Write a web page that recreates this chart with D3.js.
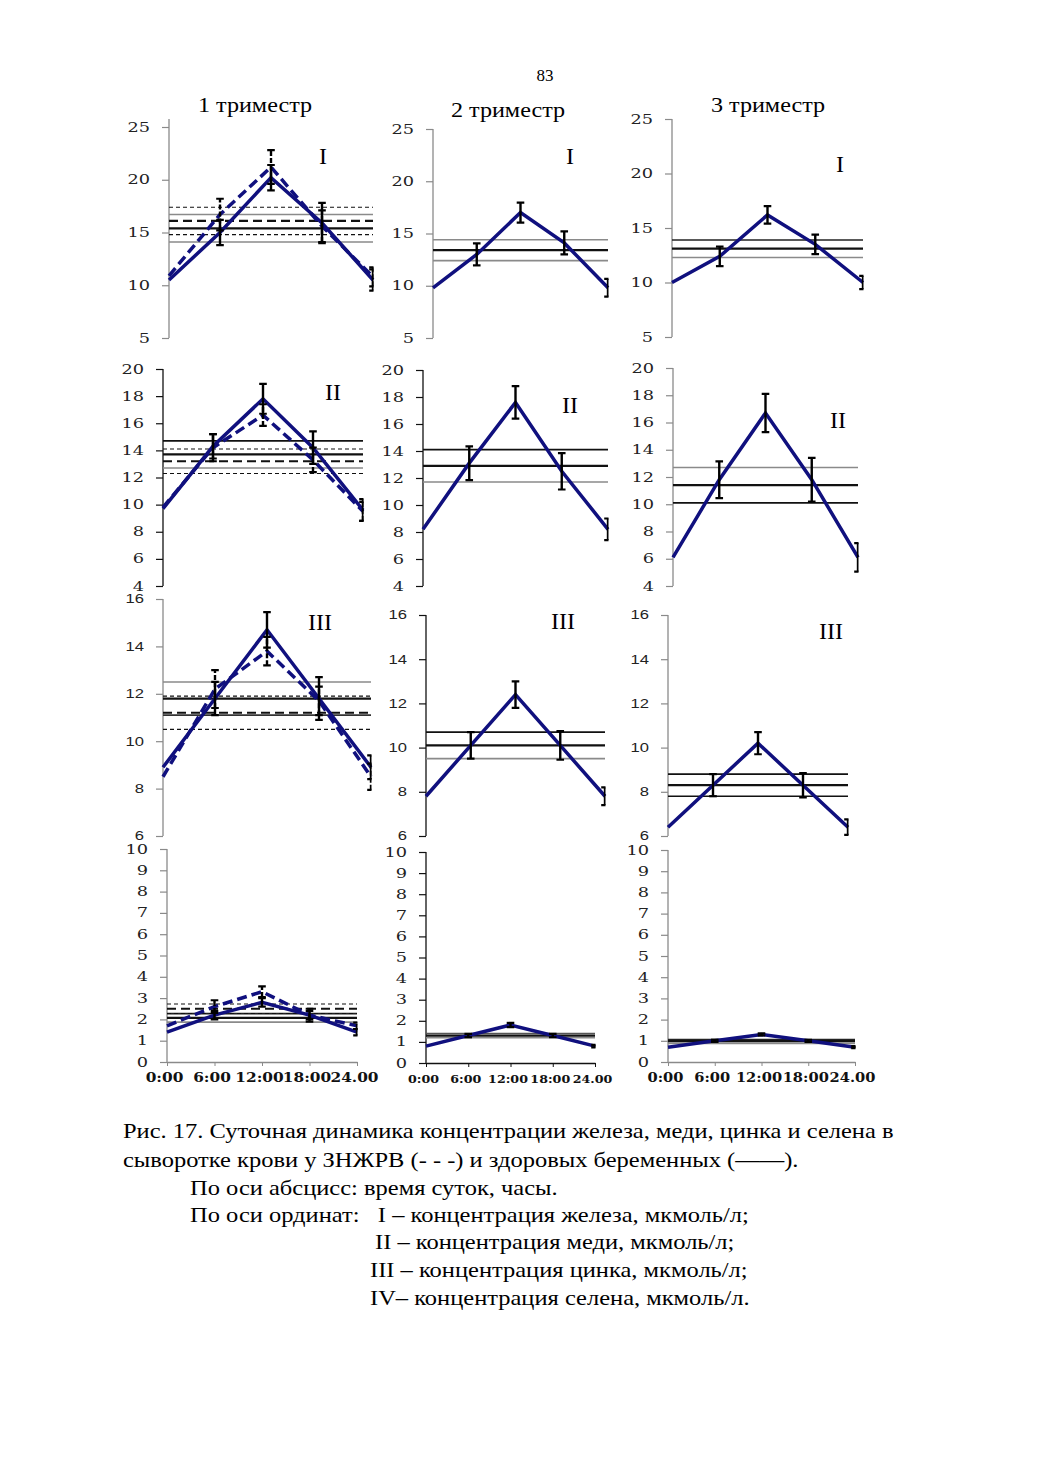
<!DOCTYPE html>
<html><head><meta charset="utf-8">
<script src="https://cdn.jsdelivr.net/npm/d3@7"></script>
<style>body{margin:0;background:#fff}</style>
</head><body>
<script>
// ---------- DATA ----------
const times = ["0:00","6:00","12:00","18:00","24.00"];
const trimesters = ["1 триместр","2 триместр","3 триместр"];
const elementLabels = ["I","II","III",""];

// Iron (I)
const ironT1 = [10.5, 15.0, 20.2, 15.9, 10.5];
const ironT1Err = [1.0, 1.2, 1.2, 1.9, 1.0];
const ironT1Z = [10.9, 16.7, 21.2, 15.6, 10.8];
const ironT1ZErr = [1.0, 1.5, 1.6, 1.5, 0.9];
const ironT1Norm = [15.4, 14.1, 16.7];
const ironT1ZNorm = [16.1, 14.8, 17.4];
const ironT2 = [9.8, 13.0, 17.0, 14.1, 9.8];
const ironT2Err = [0.85, 1.05, 0.95, 1.1, 0.85];
const ironT2Norm = [13.4, 12.4, 14.4];
const ironT3 = [10.0, 12.4, 16.2, 13.5, 10.0];
const ironT3Err = [0.6, 0.9, 0.8, 0.9, 0.6];
const ironT3Norm = [13.1, 12.3, 13.9];

// Copper (II)
const copperT1 = [9.7, 14.3, 17.8, 14.2, 9.6];
const copperT1Err = [0.8, 0.9, 1.1, 1.2, 0.8];
const copperT1Z = [9.8, 14.2, 16.6, 13.3, 9.5];
const copperT1ZErr = [0.8, 1.0, 0.8, 0.9, 0.7];
const copperT1Norm = [13.7, 12.7, 14.7];
const copperT1ZNorm = [13.2, 12.3, 14.1];
const copperT2 = [8.2, 13.1, 17.6, 12.5, 8.2];
const copperT2Err = [0.8, 1.25, 1.2, 1.35, 0.8];
const copperT2Norm = [12.9, 11.7, 14.1];
const copperT3 = [6.1, 11.8, 16.7, 11.8, 6.1];
const copperT3Err = [1.05, 1.35, 1.4, 1.6, 1.05];
const copperT3Norm = [11.4, 10.1, 12.7];

// Zinc (III)
const zincT1 = [8.9, 11.8, 14.7, 11.8, 8.9];
const zincT1Err = [0.5, 0.7, 0.75, 0.9, 0.5];
const zincT1Z = [8.5, 12.2, 13.8, 11.7, 8.5];
const zincT1ZErr = [0.5, 0.8, 0.6, 0.6, 0.55];
const zincT1Norm = [11.8, 11.1, 12.5];
const zincT1ZNorm = [11.2, 10.5, 11.9];
const zincT2 = [7.8, 10.1, 12.4, 10.1, 7.8];
const zincT2Err = [0.4, 0.6, 0.6, 0.65, 0.4];
const zincT2Norm = [10.1, 9.5, 10.7];
const zincT3 = [6.4, 8.3, 10.2, 8.3, 6.4];
const zincT3Err = [0.35, 0.5, 0.5, 0.55, 0.35];
const zincT3Norm = [8.3, 7.8, 8.8];

// Selenium (IV)
const selT1 = [1.4, 2.2, 2.8, 2.2, 1.4];
const selT1Err = [0.15, 0.2, 0.2, 0.3, 0.15];
const selT1Z = [1.7, 2.6, 3.3, 2.2, 1.7];
const selT1ZErr = [0.15, 0.3, 0.25, 0.2, 0.15];
const selT1Norm = [2.07, 1.87, 2.27];
const selT1ZNorm = [2.5, 2.28, 2.72];
const selT2 = [0.8, 1.3, 1.8, 1.3, 0.8];
const selT2Err = [0.06, 0.08, 0.1, 0.08, 0.06];
const selT2Norm = [1.3, 1.2, 1.4];
const selT3 = [0.7, 1.0, 1.3, 1.0, 0.7];
const selT3Err = [0.05, 0.05, 0.05, 0.05, 0.05];
const selT3Norm = [0.98, 0.88, 1.06];

// y-axis domains / tick steps per row
const rowDomains = [[5,25],[4,20],[6,16],[0,10]];
const rowTickValues = [d3.range(5,26,5), d3.range(4,21,2), d3.range(6,17,2), d3.range(0,11,1)];

const captionLines = [
  "Рис. 17. Суточная динамика концентрации железа, меди, цинка и селена в",
  "сыворотке крови у ЗНЖРВ (- - -) и здоровых беременных (——).",
  "По оси абсцисс: время суток, часы.",
  "По оси ординат:   I – концентрация железа, мкмоль/л;",
  "II – концентрация меди, мкмоль/л;",
  "III – концентрация цинка, мкмоль/л;",
  "IV– концентрация селена, мкмоль/л."
];

// ---------- PANELS ----------
const panels = [
  {row:0,col:0,h:ironT1,he:ironT1Err,z:ironT1Z,ze:ironT1ZErr,n:ironT1Norm,nz:ironT1ZNorm},
  {row:0,col:1,h:ironT2,he:ironT2Err,n:ironT2Norm},
  {row:0,col:2,h:ironT3,he:ironT3Err,n:ironT3Norm},
  {row:1,col:0,h:copperT1,he:copperT1Err,z:copperT1Z,ze:copperT1ZErr,n:copperT1Norm,nz:copperT1ZNorm},
  {row:1,col:1,h:copperT2,he:copperT2Err,n:copperT2Norm},
  {row:1,col:2,h:copperT3,he:copperT3Err,n:copperT3Norm},
  {row:2,col:0,h:zincT1,he:zincT1Err,z:zincT1Z,ze:zincT1ZErr,n:zincT1Norm,nz:zincT1ZNorm},
  {row:2,col:1,h:zincT2,he:zincT2Err,n:zincT2Norm},
  {row:2,col:2,h:zincT3,he:zincT3Err,n:zincT3Norm},
  {row:3,col:0,h:selT1,he:selT1Err,z:selT1Z,ze:selT1ZErr,n:selT1Norm,nz:selT1ZNorm},
  {row:3,col:1,h:selT2,he:selT2Err,n:selT2Norm},
  {row:3,col:2,h:selT3,he:selT3Err,n:selT3Norm}
];

// ---------- LAYOUT (pixels) ----------
const layout = [
  {x0:169,x1:373,yT:127,yB:338,axTop:119,ac:"#8a8a8a",bc:["#8a8a8a","#8a8a8a"],lx:323,ly:155},
  {x0:433,x1:608,yT:129,yB:338,axTop:129,ac:"#8a8a8a",bc:["#8a8a8a","#8a8a8a"],lx:570,ly:155},
  {x0:672,x1:863,yT:119,yB:337,axTop:119,ac:"#8a8a8a",bc:["#8a8a8a","#222"],lx:840,ly:163},
  {x0:163,x1:363,yT:369,yB:586,axTop:369,ac:"#111",bc:["#8a8a8a","#111"],lx:333,ly:391},
  {x0:423,x1:608,yT:370,yB:586,axTop:370,ac:"#111",bc:["#8a8a8a","#111"],lx:570,ly:404},
  {x0:673,x1:858,yT:368,yB:586,axTop:368,ac:"#8a8a8a",bc:["#111","#8a8a8a"],lx:838,ly:419},
  {x0:163,x1:371,yT:599,yB:836,axTop:599,ac:"#8a8a8a",bc:["#333","#8a8a8a"],lx:320,ly:621},
  {x0:426,x1:605,yT:615,yB:836,axTop:615,ac:"#111",bc:["#8a8a8a","#111"],lx:563,ly:620},
  {x0:668,x1:848,yT:615,yB:836,axTop:615,ac:"#8a8a8a",bc:["#111","#111"],lx:831,ly:630},
  {x0:167,x1:357,yT:849,yB:1062,axTop:849,ac:"#8a8a8a",bc:["#8a8a8a","#222"],lx:0,ly:0,xs:1.28,xf:12},
  {x0:426,x1:595,yT:852,yB:1063,axTop:852,ac:"#111",bc:["#8a8a8a","#555"],lx:0,ly:0,xs:1.1,xf:11.5},
  {x0:668,x1:855,yT:850,yB:1062,axTop:850,ac:"#8a8a8a",bc:["#8a8a8a","#222"],lx:0,ly:0,xs:1.22,xf:12}
];

const NAVY = "#10107e";
const svg = d3.select("body").append("svg").attr("width",1040).attr("height",1471)
  .style("background","#fff");

// page number
svg.append("text").attr("x",545).attr("y",81).attr("text-anchor","middle")
  .attr("font-family","Liberation Serif").attr("font-size",17).text("83");

// trimester titles
const titlePos = [[255,112],[508,117],[768,112]];
trimesters.forEach((t,i)=>{
  svg.append("text").attr("text-anchor","middle")
    .attr("transform",`translate(${titlePos[i][0]},${titlePos[i][1]}) scale(1.15,1)`)
    .attr("font-family","Liberation Serif").attr("font-size",21).text(t);
});

panels.forEach((p,idx)=>{
  const L = layout[idx];
  const dom = rowDomains[p.row];
  const x = d3.scalePoint().domain(times).range([L.x0, L.x1]);
  const y = d3.scaleLinear().domain(dom).range([L.yB, L.yT]);
  const g = svg.append("g");
  const clipId = "clip"+idx;
  svg.append("clipPath").attr("id",clipId).append("rect")
    .attr("x",L.x0-20).attr("y",L.axTop-30).attr("width",L.x1-L.x0+20.5).attr("height",L.yB-L.axTop+60);

  // y axis
  const sans = p.row===2;
  const ax = g.append("g").attr("transform",`translate(${L.x0},0)`)
    .call(d3.axisLeft(y).tickValues(rowTickValues[p.row]).tickSizeOuter(0).tickSize(7).tickFormat(d3.format("d")));
  ax.select(".domain").attr("stroke",L.ac).attr("stroke-width",1.3)
    .attr("d",`M0,${L.axTop}V${L.yB}`);
  ax.selectAll(".tick line").attr("stroke",L.ac).attr("stroke-width",1.2);
  ax.selectAll(".tick text")
    .attr("x",0).attr("fill","#222")
    .attr("font-family", sans ? "Liberation Sans" : "DejaVu Serif")
    .attr("font-size", sans ? 12 : 12.5)
    .attr("transform", `translate(-19,0) scale(${sans?1.38:1.42},1)`);

  // bottom axis for selenium row
  if (p.row===3){
    const bx = g.append("g").attr("transform",`translate(0,${L.yB})`)
      .call(d3.axisBottom(x).tickSize(4).tickSizeOuter(0));
    bx.select(".domain").attr("stroke",L.ac).attr("stroke-width",1.3);
    bx.selectAll(".tick line").attr("stroke",L.ac);
    bx.selectAll(".tick text").attr("y",0).attr("dy",0).attr("fill","#111")
      .attr("font-family","DejaVu Serif").attr("font-weight","bold").attr("font-size",L.xf)
      .attr("transform",`translate(-3,20) scale(${L.xs},1)`);
  }

  // norm lines: healthy (solid) & ZHRV (dashed)
  const hline = (v, color, w, dash) => g.append("line")
    .attr("x1",L.x0).attr("x2",L.x1).attr("y1",y(v)).attr("y2",y(v))
    .attr("stroke",color).attr("stroke-width",w).attr("stroke-dasharray",dash||null);
  hline(p.n[1], L.bc[0], 1.6);
  hline(p.n[2], L.bc[1], 1.6);
  hline(p.n[0], "#111", 2.2);
  if (p.nz){
    hline(p.nz[1], "#111", 1.1, "4,3");
    hline(p.nz[2], "#111", 1.1, "4,3");
    hline(p.nz[0], "#111", 2.2, "9,5");
  }

  // series lines
  const line = d3.line().x((d,i)=>x(times[i])).y(d=>y(d));
  if (p.z){
    g.append("path").datum(p.z).attr("d",line).attr("fill","none")
      .attr("stroke",NAVY).attr("stroke-width",3.5).attr("stroke-dasharray","10,5");
  }
  g.append("path").datum(p.h).attr("d",line).attr("fill","none")
    .attr("stroke",NAVY).attr("stroke-width",3.5);

  // error bars (skip first point; clipped at right edge)
  const eg = g.append("g").attr("clip-path",`url(#${clipId})`);
  const errBars = (vals, errs, dashed) => {
    vals.forEach((v,i)=>{
      if (i===0) return;
      const cx = x(times[i]);
      const yl = y(v-errs[i]), yh = y(v+errs[i]);
      eg.append("line").attr("x1",cx).attr("x2",cx).attr("y1",yl).attr("y2",yh)
        .attr("stroke","#000").attr("stroke-width",2.4).attr("stroke-dasharray",dashed?"5,2":null);
      [yl,yh].forEach(yy=>eg.append("line").attr("x1",cx-3.8).attr("x2",cx+3.8)
        .attr("y1",yy).attr("y2",yy).attr("stroke","#000").attr("stroke-width",2.2));
    });
  };
  if (p.z) errBars(p.z, p.ze, true);
  errBars(p.h, p.he, false);

  // element label
  const lab = elementLabels[p.row];
  if (lab){
    g.append("text").attr("x",L.lx).attr("y",L.ly+9).attr("text-anchor","middle")
      .attr("font-family","Liberation Serif").attr("font-size",24).text(lab);
  }
});

// caption
const capPos = [[123,1138],[123,1167],[190,1195],[190,1222],[375,1249],[370,1277],[370,1305]];
captionLines.forEach((t,i)=>{
  svg.append("text")
    .attr("transform",`translate(${capPos[i][0]},${capPos[i][1]}) scale(1.15,1)`)
    .attr("font-family","Liberation Serif").attr("font-size",21.3)
    .attr("xml:space","preserve").style("white-space","pre").text(t);
});
</script>
</body></html>
